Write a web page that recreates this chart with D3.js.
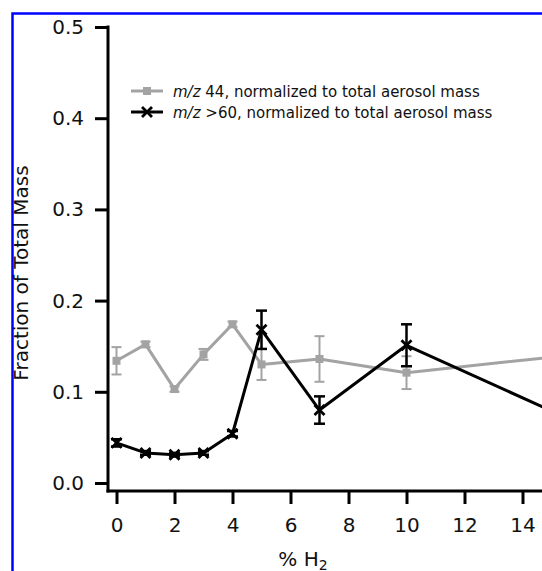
<!DOCTYPE html>
<html>
<head>
<meta charset="utf-8">
<script src="https://cdn.jsdelivr.net/npm/d3@7"></script>
<style>
  html, body { margin: 0; padding: 0; background: #fff; }
  svg { display: block; }
  text { font-family: "DejaVu Sans", sans-serif; }
</style>
</head>
<body>
<script>
// ---- data ----
const h2Percent = [0, 1, 2, 3, 4, 5, 7, 10, 15];
const mz44Values = [0.134, 0.152, 0.103, 0.141, 0.174, 0.130, 0.136, 0.121, 0.138];
const mz44Errors = [0.015, 0.003, 0.003, 0.006, 0.003, 0.017, 0.025, 0.018, 0.030];
const mz60Values = [0.044, 0.033, 0.031, 0.033, 0.054, 0.168, 0.080, 0.151, 0.079];
const mz60Errors = [0.004, 0.002, 0.002, 0.002, 0.003, 0.021, 0.015, 0.023, 0.025];
const xTickValues = [0, 2, 4, 6, 8, 10, 12, 14];
const yTickValues = [0.0, 0.1, 0.2, 0.3, 0.4, 0.5];
const legendLabels = [" 44, normalized to total aerosol mass", " >60, normalized to total aerosol mass"];

const W = 542, H = 571;
const svg = d3.select("body").append("svg").attr("width", W).attr("height", H);

const x = d3.scaleLinear().domain([0, 14]).range([116.5, 522.5]);
const y = d3.scaleLinear().domain([0, 0.5]).range([483, 27]);
const axisX0 = 108, axisY0 = 491;

// blue frame (left and top edges visible)
svg.append("path")
  .attr("d", `M12.5,${H + 5} L12.5,13.5 L${W + 5},13.5`)
  .attr("fill", "none").attr("stroke", "#0000ff").attr("stroke-width", 2.5);

// y axis
const yAxis = d3.axisLeft(y).tickValues(yTickValues).tickFormat(d3.format(".1f"))
  .tickSize(13).tickPadding(11);
const gy = svg.append("g").attr("transform", `translate(${axisX0},0)`).call(yAxis);
gy.select(".domain").remove();
gy.selectAll(".tick line").attr("stroke", "#000").attr("stroke-width", 3);
gy.selectAll(".tick text").attr("font-size", 20).attr("fill", "#111");
svg.append("line").attr("x1", axisX0).attr("x2", axisX0)
  .attr("y1", y(0.5) - 1.5).attr("y2", axisY0 + 1.5)
  .attr("stroke", "#000").attr("stroke-width", 3);

// x axis
const xAxis = d3.axisBottom(x).tickValues(xTickValues).tickFormat(d3.format("d"))
  .tickSize(13).tickPadding(14);
const gx = svg.append("g").attr("transform", `translate(0,${axisY0})`).call(xAxis);
gx.select(".domain").remove();
gx.selectAll(".tick line").attr("stroke", "#000").attr("stroke-width", 3);
gx.selectAll(".tick text").attr("font-size", 20).attr("fill", "#111");
svg.append("line").attr("x1", axisX0 - 1.5).attr("x2", W + 5)
  .attr("y1", axisY0).attr("y2", axisY0)
  .attr("stroke", "#000").attr("stroke-width", 3);

// axis titles
svg.append("text")
  .attr("transform", `translate(28,${273}) rotate(-90)`)
  .attr("text-anchor", "middle").attr("font-size", 20).attr("fill", "#111")
  .text("Fraction of Total Mass");
const xt = svg.append("text").attr("x", 303).attr("y", 566)
  .attr("text-anchor", "middle").attr("font-size", 20).attr("fill", "#111");
xt.append("tspan").text("% H");
xt.append("tspan").attr("font-size", 14).attr("dy", 3.5).text("2");

// series
const grayCol = "#a3a3a3";
const series = [
  { vals: mz44Values, errs: mz44Errors, color: grayCol, lw: 3, elw: 2, cap: 5, marker: "square" },
  { vals: mz60Values, errs: mz60Errors, color: "#000", lw: 3, elw: 2.5, cap: 5.5, marker: "x" }
];

const line = d3.line().x(d => x(d[0])).y(d => y(d[1]));

series.forEach(s => {
  const pts = h2Percent.map((h, i) => [h, s.vals[i], s.errs[i]]);
  const g = svg.append("g");
  // error bars
  pts.forEach(p => {
    const cx = x(p[0]), yt = y(p[1] + p[2]), yb = y(p[1] - p[2]);
    g.append("line").attr("x1", cx).attr("x2", cx).attr("y1", yt).attr("y2", yb)
      .attr("stroke", s.color).attr("stroke-width", s.elw);
    [yt, yb].forEach(yy => g.append("line")
      .attr("x1", cx - s.cap).attr("x2", cx + s.cap).attr("y1", yy).attr("y2", yy)
      .attr("stroke", s.color).attr("stroke-width", s.elw));
  });
  g.append("path").datum(pts).attr("d", line)
    .attr("fill", "none").attr("stroke", s.color).attr("stroke-width", s.lw)
    .attr("stroke-linejoin", "round");
  pts.forEach(p => drawMarker(g, s, x(p[0]), y(p[1])));
});

function drawMarker(g, s, cx, cy) {
  if (s.marker === "square") {
    g.append("rect").attr("x", cx - 4).attr("y", cy - 4).attr("width", 8).attr("height", 8)
      .attr("fill", s.color);
  } else {
    const r = 5;
    g.append("path")
      .attr("d", `M${cx - r},${cy - r}L${cx + r},${cy + r}M${cx - r},${cy + r}L${cx + r},${cy - r}`)
      .attr("stroke", s.color).attr("stroke-width", 2.8).attr("fill", "none");
  }
}

// legend
const legendRows = [91, 112];
series.forEach((s, i) => {
  const ly = legendRows[i];
  svg.append("line").attr("x1", 131).attr("x2", 163).attr("y1", ly).attr("y2", ly)
    .attr("stroke", s.color).attr("stroke-width", s.lw);
  drawMarker(svg, s, 147, ly);
  const t = svg.append("text").attr("x", 173).attr("y", ly + 5.5)
    .attr("font-size", 15).attr("fill", "#111");
  t.append("tspan").attr("font-style", "italic").text("m/z");
  t.append("tspan").text(legendLabels[i]);
});
</script>
</body>
</html>
